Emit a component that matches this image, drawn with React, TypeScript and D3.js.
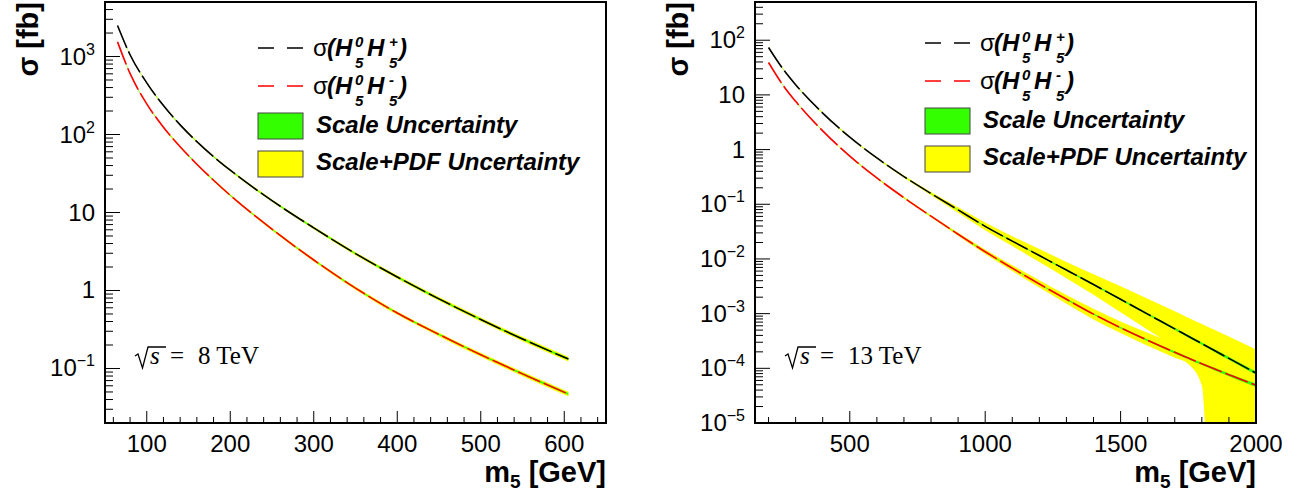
import React from 'react';
import * as d3 from 'd3';

// ---------- 8 TeV data ----------
const m8 = [65, 80, 100, 120, 140, 160, 180, 200, 250, 300, 350, 400, 450, 500, 550, 605];
const sigPlus8 = [2500, 1054, 460, 235, 133, 81, 52, 34.9, 14.2, 6.35, 2.97, 1.49, 0.78, 0.425, 0.239, 0.132];
const sigMinus8 = [1540, 607, 247, 124, 69.7, 41.6, 25.9, 16.6, 6.11, 2.46, 1.074, 0.514, 0.273, 0.15, 0.0853, 0.047];
const scaleUnc8 = [0.01, 0.01, 0.01, 0.01, 0.012, 0.012, 0.014, 0.015, 0.016, 0.018, 0.02, 0.02, 0.022, 0.024, 0.026, 0.03];
const pdfUnc8 = [0.015, 0.015, 0.02, 0.02, 0.022, 0.025, 0.027, 0.03, 0.035, 0.04, 0.045, 0.05, 0.055, 0.06, 0.065, 0.07];

// ---------- 13 TeV data ----------
const m13 = [200, 250, 300, 400, 500, 600, 700, 800, 900, 1000, 1100, 1200, 1300, 1400, 1500, 1600, 1700, 1750, 1800, 1850, 1900, 2000];
const sigPlus13 = [73.6, 31.4, 15.4, 4.65, 1.69, 0.703, 0.321, 0.157, 0.0789, 0.0395, 0.0212, 0.01153, 0.00627, 0.0034, 0.00183, 0.00098, 0.000527, 0.000386, 0.000283, 0.000207, 0.000152, 0.0000817];
const sigMinus13 = [39.1, 15.9, 7.62, 2.2, 0.762, 0.303, 0.132, 0.0605, 0.0283, 0.01355, 0.00679, 0.00348, 0.00183, 0.00098, 0.000552, 0.000325, 0.000196, 0.000154, 0.000121, 0.0000959, 0.0000762, 0.0000492];
const scaleUnc13 = [0.01, 0.01, 0.01, 0.01, 0.01, 0.01, 0.01, 0.01, 0.015, 0.02, 0.02, 0.025, 0.03, 0.03, 0.035, 0.04, 0.045, 0.05, 0.05, 0.055, 0.06, 0.07];
const pdfUpPlus13 = [0.02, 0.02, 0.02, 0.025, 0.03, 0.035, 0.05, 0.07, 0.12, 0.17, 0.23, 0.32, 0.41, 0.55, 0.74, 0.9, 1.09, 1.19, 1.29, 1.4, 1.51, 1.69];
const pdfDnPlus13 = [0.02, 0.02, 0.02, 0.025, 0.03, 0.035, 0.045, 0.067, 0.11, 0.15, 0.19, 0.24, 0.29, 0.35, 0.42, 0.48, 0.53, 0.56, 0.58, 0.62, 0.65, 0.68];
const pdfUpMinus13 = [0.02, 0.02, 0.02, 0.02, 0.025, 0.03, 0.035, 0.045, 0.07, 0.1, 0.13, 0.17, 0.2, 0.25, 0.3, 0.38, 0.45, 0.5, 0.55, 0.6, 0.65, 0.75];
const pdfDnMinus13 = [0.02, 0.02, 0.02, 0.02, 0.025, 0.03, 0.035, 0.045, 0.065, 0.09, 0.11, 0.14, 0.17, 0.2, 0.2, 0.2, 0.2, 0.22, 0.6, 1.0, 1.0, 1.0];

// ---------- axes ----------
const xMajor8 = [100, 200, 300, 400, 500, 600];
const xMajor13 = [500, 1000, 1500, 2000];

const SANS = '"Liberation Sans", Arial, Helvetica, sans-serif';
const SERIF = '"Liberation Serif", "Times New Roman", serif';
const YELLOW = '#ffff00';
const GREEN = '#33ff00';

function sup(k: number) {
  return k < 0 ? '\u2212' + Math.abs(k) : String(k);
}

type PanelProps = {
  id: string;
  x0: number; x1: number; y0: number; y1: number;
  xDomain: [number, number]; yDomain: [number, number];
  xMajor: number[]; xMinorStep: number;
  m: number[]; plus: number[]; minus: number[];
  scaleP: number[]; scaleM: number[];
  pdfUpP: number[]; pdfDnP: number[]; pdfUpM: number[]; pdfDnM: number[];
  legX: number; legY: number;
  energy: string; enX: number;
};

function Panel(p: PanelProps) {
  const x = d3.scaleLinear().domain(p.xDomain).range([p.x0, p.x1]);
  const y = d3.scaleLog().domain(p.yDomain).range([p.y1, p.y0]);
  const line = (vals: number[]) =>
    d3.line<number>().x((_, i) => x(p.m[i])).y((v) => y(v)).curve(d3.curveMonotoneX)(vals) || '';
  const area = (vals: number[], up: number[], dn: number[]) =>
    d3
      .area<number>()
      .x((_, i) => x(p.m[i]))
      .y0((v, i) => Math.min(y(Math.max(v * (1 - dn[i]), 1e-9)), p.y1 + 200))
      .y1((v, i) => y(v * (1 + up[i])))
      .curve(d3.curveMonotoneX)(vals) || '';

  const kLo = Math.floor(Math.log10(p.yDomain[0]));
  const kHi = Math.ceil(Math.log10(p.yDomain[1]));
  const yMaj: number[] = [];
  const yMin: number[] = [];
  for (let k = kLo; k <= kHi; k++) {
    const b = Math.pow(10, k);
    if (b >= p.yDomain[0] * 0.999 && b <= p.yDomain[1] * 1.001) yMaj.push(k);
    for (let j = 2; j <= 9; j++) {
      const v = j * b;
      if (v >= p.yDomain[0] * 0.999 && v <= p.yDomain[1] * 1.001) yMin.push(v);
    }
  }
  const xMin: number[] = [];
  for (let v = Math.ceil(p.xDomain[0] / p.xMinorStep) * p.xMinorStep; v <= p.xDomain[1]; v += p.xMinorStep) {
    if (!p.xMajor.includes(v)) xMin.push(v);
  }

  const lx = p.legX;
  const ly = p.legY;
  const BI = { fontWeight: 'bold', fontStyle: 'italic' } as const;
  const legendLabel = (sign: string, yb: number) => (
    <g fontFamily={SANS} fill="#000">
      <text x={lx + 55} y={yb} fontSize={24}>σ</text>
      <text x={lx + 69} y={yb} fontSize={24} {...BI}>(H</text>
      <text x={lx + 97} y={yb - 9} fontSize={15} {...BI}>0</text>
      <text x={lx + 97} y={yb + 12} fontSize={15} {...BI}>5</text>
      <text x={lx + 109} y={yb} fontSize={24} {...BI}>H</text>
      <text x={lx + 131} y={yb - 9} fontSize={15} {...BI}>{sign}</text>
      <text x={lx + 131} y={yb + 12} fontSize={15} {...BI}>5</text>
      <text x={lx + 141} y={yb} fontSize={24} {...BI}>)</text>
    </g>
  );

  const ex = p.enX;
  return (
    <g>
      <defs>
        <clipPath id={p.id}>
          <rect x={p.x0} y={p.y0} width={p.x1 - p.x0} height={p.y1 - p.y0} />
        </clipPath>
      </defs>
      <g clipPath={`url(#${p.id})`}>
        <path d={area(p.plus, p.pdfUpP, p.pdfDnP)} fill={YELLOW} />
        <path d={area(p.minus, p.pdfUpM, p.pdfDnM)} fill={YELLOW} />
        <path d={area(p.plus, p.scaleP, p.scaleP)} fill={GREEN} />
        <path d={area(p.minus, p.scaleM, p.scaleM)} fill={GREEN} />
        <path d={line(p.plus)} fill="none" stroke="#000" strokeWidth={1.6} strokeDasharray="24 4" />
        <path d={line(p.minus)} fill="none" stroke="#ff0000" strokeWidth={1.6} strokeDasharray="24 4" />
      </g>

      {yMaj.map((k) => (
        <g key={'ym' + k}>
          <line x1={p.x0} x2={p.x0 + 15} y1={y(Math.pow(10, k))} y2={y(Math.pow(10, k))} stroke="#000" strokeWidth={1} />
          <text x={p.x0 - 10} y={y(Math.pow(10, k)) + 8} textAnchor="end" fontFamily={SANS} fontSize={24} fill="#000">
            {k === 0 ? '1' : k === 1 ? '10' : (
              <>
                10<tspan fontSize={16} dy={-10}>{sup(k)}</tspan>
              </>
            )}
          </text>
        </g>
      ))}
      {yMin.map((v, i) => (
        <line key={'yn' + i} x1={p.x0} x2={p.x0 + 8} y1={y(v)} y2={y(v)} stroke="#000" strokeWidth={1} />
      ))}
      {p.xMajor.map((v) => (
        <g key={'xm' + v}>
          <line x1={x(v)} x2={x(v)} y1={p.y1} y2={p.y1 - 12} stroke="#000" strokeWidth={1} />
          <text x={x(v)} y={p.y1 + 29} textAnchor="middle" fontFamily={SANS} fontSize={24} fill="#000">{v}</text>
        </g>
      ))}
      {xMin.map((v, i) => (
        <line key={'xn' + i} x1={x(v)} x2={x(v)} y1={p.y1} y2={p.y1 - 6} stroke="#000" strokeWidth={1} />
      ))}

      <rect x={p.x0} y={p.y0} width={p.x1 - p.x0} height={p.y1 - p.y0} fill="none" stroke="#000" strokeWidth={2} />

      <text
        transform={`translate(${p.x0 - 67},${p.y0}) rotate(-90)`}
        textAnchor="end"
        fontFamily={SANS}
        fontSize={29}
        fontWeight="bold"
        fill="#000"
      >
        σ [fb]
      </text>
      <text x={p.x1} y={p.y1 + 59} textAnchor="end" fontFamily={SANS} fontSize={29} fontWeight="bold" fill="#000">
        m<tspan fontSize={19} dy={6}>5</tspan>
        <tspan dy={-6}> [GeV]</tspan>
      </text>

      <line x1={lx} x2={lx + 45} y1={ly} y2={ly} stroke="#000" strokeWidth={1.3} strokeDasharray="16 13" />
      {legendLabel('+', ly + 8)}
      <line x1={lx} x2={lx + 45} y1={ly + 38} y2={ly + 38} stroke="#ff0000" strokeWidth={1.3} strokeDasharray="16 13" />
      {legendLabel('-', ly + 46)}
      <rect x={lx} y={ly + 65} width={45} height={26} fill={GREEN} stroke="#444" strokeWidth={1} />
      <text x={lx + 58} y={ly + 85} fontFamily={SANS} fontSize={24} {...BI} fill="#000">
        Scale Uncertainty
      </text>
      <rect x={lx} y={ly + 103} width={45} height={26} fill={YELLOW} stroke="#444" strokeWidth={1} />
      <text x={lx + 58} y={ly + 122} fontFamily={SANS} fontSize={24} {...BI} fill="#000">
        Scale+PDF Uncertainty
      </text>

      <g fontFamily={SERIF} fontSize={25} fill="#000">
        <path
          d={`M${ex},${356} L${ex + 3},${354} L${ex + 7.5},${368} L${ex + 13},${347} L${ex + 31},${347}`}
          fill="none"
          stroke="#000"
          strokeWidth={1.3}
        />
        <text x={ex + 15} y={364} fontStyle="italic">s</text>
        <text x={ex + 35} y={364}>=</text>
        <text x={ex + 63} y={364}>{p.energy}</text>
      </g>
    </g>
  );
}

export default function App() {
  return (
    <svg
      width={1312}
      height={498}
      style={{ position: 'absolute', left: 0, top: 0, display: 'block', background: '#fff' }}
    >
      <rect x={0} y={0} width={1312} height={498} fill="#fff" />
      <Panel
        id="clipL"
        x0={105} x1={606} y0={2} y1={423}
        xDomain={[50, 650]} yDomain={[0.02, 5000]}
        xMajor={xMajor8} xMinorStep={20}
        m={m8} plus={sigPlus8} minus={sigMinus8}
        scaleP={scaleUnc8} scaleM={scaleUnc8}
        pdfUpP={pdfUnc8} pdfDnP={pdfUnc8} pdfUpM={pdfUnc8} pdfDnM={pdfUnc8}
        legX={258} legY={48}
        energy="8 TeV" enX={135}
      />
      <Panel
        id="clipR"
        x0={755} x1={1256} y0={2} y1={423}
        xDomain={[150, 2000]} yDomain={[1e-5, 500]}
        xMajor={xMajor13} xMinorStep={100}
        m={m13} plus={sigPlus13} minus={sigMinus13}
        scaleP={scaleUnc13} scaleM={scaleUnc13}
        pdfUpP={pdfUpPlus13} pdfDnP={pdfDnPlus13} pdfUpM={pdfUpMinus13} pdfDnM={pdfDnMinus13}
        legX={925} legY={43}
        energy="13 TeV" enX={785}
      />
    </svg>
  );
}
